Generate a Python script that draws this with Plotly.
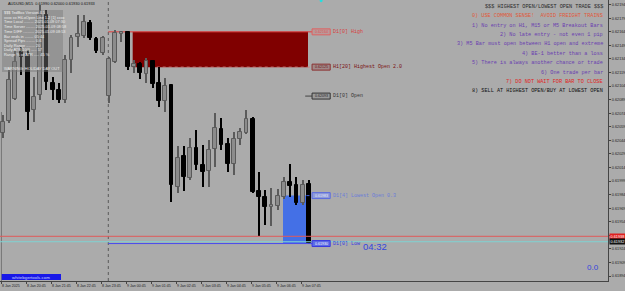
import plotly.graph_objects as go

# ---------------- data ----------------
bar_index = list(range(50))  # M15 bars, bar 0 = 8 Jan 19:45
opens = [0.62052, 0.62065, 0.62090, 0.62142, 0.62138, 0.62078, 0.62094, 0.62183, 0.62108, 0.62100,
         0.62089, 0.62133, 0.62158, 0.62159, 0.62174, 0.62156, 0.62141, 0.62093, 0.62131, 0.62162,
         0.62164, 0.62125, 0.62129, 0.62117, 0.62132, 0.62108, 0.62088, 0.62105, 0.61993, 0.62027,
         0.62002, 0.62036, 0.62017, 0.62010, 0.62035, 0.62057, 0.62040, 0.62018, 0.62046, 0.62052,
         0.62068, 0.61988, 0.61981, 0.61970, 0.61972, 0.61981, 0.61998, 0.61995, 0.61975, 0.61996]
highs = [0.62072, 0.62122, 0.62144, 0.62147, 0.62144, 0.62114, 0.62194, 0.62188, 0.62114, 0.62108,
         0.62138, 0.62161, 0.62183, 0.62183, 0.62177, 0.62158, 0.62159, 0.62136, 0.62166, 0.62165,
         0.62165, 0.62133, 0.62131, 0.62135, 0.62133, 0.62125, 0.62113, 0.62106, 0.62038, 0.62038,
         0.62047, 0.62056, 0.62039, 0.62044, 0.62074, 0.62069, 0.62047, 0.62053, 0.62058, 0.62078,
         0.62070, 0.62009, 0.61989, 0.61991, 0.61990, 0.62004, 0.62018, 0.62004, 0.62000, 0.62000]
lows = [0.62047, 0.62063, 0.62089, 0.62116, 0.62056, 0.62064, 0.62089, 0.62100, 0.62089, 0.62085,
        0.62085, 0.62119, 0.62147, 0.62157, 0.62155, 0.62141, 0.62138, 0.62085, 0.62130, 0.62153,
        0.62122, 0.62119, 0.62112, 0.62108, 0.62102, 0.62081, 0.62075, 0.61976, 0.61986, 0.61988,
        0.62000, 0.62011, 0.61993, 0.61993, 0.62015, 0.62033, 0.62009, 0.62006, 0.62039, 0.62051,
        0.61986, 0.61938, 0.61951, 0.61949, 0.61967, 0.61979, 0.61981, 0.61973, 0.61973, 0.61930]
closes = [0.62064, 0.62111, 0.62131, 0.62136, 0.62075, 0.62092, 0.62183, 0.62109, 0.62100, 0.62089,
          0.62133, 0.62157, 0.62162, 0.62175, 0.62157, 0.62143, 0.62157, 0.62134, 0.62163, 0.62164,
          0.62125, 0.62129, 0.62119, 0.62132, 0.62106, 0.62088, 0.62104, 0.61995, 0.62025, 0.62004,
          0.62036, 0.62017, 0.62009, 0.62033, 0.62058, 0.62039, 0.62018, 0.62046, 0.62053, 0.62068,
          0.61987, 0.61981, 0.61970, 0.61973, 0.61983, 0.61998, 0.61994, 0.61975, 0.61995, 0.61931]

x_label_index = [0, 4, 8, 12, 16, 20, 24, 28, 32, 36, 40, 44, 48]
x_labels = ["8 Jan 2025", "8 Jan 20:45", "8 Jan 21:45", "8 Jan 22:45", "8 Jan 23:45",
            "9 Jan 00:45", "9 Jan 01:45", "9 Jan 02:45", "9 Jan 03:45", "9 Jan 04:45",
            "9 Jan 05:45", "9 Jan 06:45", "9 Jan 07:45"]

y_tick_values = [0.62194, 0.62179, 0.62164, 0.62149, 0.62134, 0.62119, 0.62104, 0.62089, 0.62074,
                 0.62059, 0.62044, 0.62029, 0.62014, 0.61999, 0.61984, 0.61969, 0.61954, 0.61939,
                 0.61924, 0.61909, 0.61894]
y_tick_labels = ["0.62194", "0.62179", "0.62164", "0.62149", "0.62134", "0.62119", "0.62104",
                 "0.62089", "0.62074", "0.62059", "0.62044", "0.62029", "0.62014", "0.61999",
                 "0.61984", "0.61969", "0.61954", "0.61939", "0.61924", "0.61909", "0.61894"]

day_start_index = 16.9
high_zone_start = 20.8
low_zone_start = 44.85
low_zone_end = 48.6
day_high = 0.62164
highest_open = 0.62125
day_open = 0.62093
lowest_open = 0.61983
day_low = 0.61930
ask_price = 0.61938
bid_price = 0.61932

level_values = [day_high, highest_open, day_open, lowest_open, day_low]
level_box_text = ["0.62164", "0.62125", "0.62093", "0.61983", "0.61930"]
level_names = ["D1[0] High", "H1[20] Highest Open 2.0", "D1[0] Open", "D1[4] Lowest Open 0.3", "D1[0] Low"]

rule_lines = ["$$$ HIGHEST OPEN/LOWEST OPEN TRADE $$$",
              "0) USE COMMON SENSE!  AVOID FREIGHT TRAINS",
              "1) No entry on H1, M15 or M5 Breakout Bars",
              "2) No late entry - not even 1 pip",
              "3) M5 Bar must open between H1 open and extreme",
              "4) BE-1 better than a loss",
              "5) There is always another chance or trade",
              "6) One trade per bar",
              "7) DO NOT WAIT FOR BAR TO CLOSE",
              "8) SELL AT HIGHEST OPEN/BUY AT LOWEST OPEN"]

info_lines = ["$$$ TedBox Version 4.5",
              "xxxx xx HiLoOpen Line 1.2 [1] xxxx",
              "Time Local ......... 2025.01.09 07:30",
              "Time Server ........ 2025.01.09 08:58",
              "Time DIFF .......... 2025.01.09 08:53",
              "Bar ends in ........ 05:44",
              "Spread Pips ........ 0.6",
              "Daily Range ........ 20",
              "Daily ATR(100) ..... 57",
              "Range % of ATR ..... 45 %",
              "",
              "WARNING: HOLIDAY DAY OUT"]

header_text = "AUDUSD,M15  0.61990 0.62000 0.61930 0.61933"
countdown_text = "04:32"
corner_value = "0.0"
site_text = "whitebgertools.com"

# ---------------- layout geometry ----------------
W, H = 625, 291
PLOT_W, PLOT_H = 608, 281
X_RANGE = [-0.43, 96.85]
Y_RANGE = [0.618886, 0.621992]
BG = "#ABABAB"
UP_FILL, UP_LINE = "#8C8C8C", "#5A5A5A"
DN_FILL, DN_LINE = "#000000", "#000000"


def px(x):
    return x / PLOT_W


def py(y):
    return 1 - y / PLOT_H


fig = go.Figure()

is_up = [c >= o for o, c in zip(opens, closes)]
wick_colors = [UP_LINE if u else DN_LINE for u in is_up]
body_fill = [UP_FILL if u else DN_FILL for u in is_up]
body_line = [UP_LINE if u else DN_LINE for u in is_up]
body_base = [min(o, c) for o, c in zip(opens, closes)]
body_h = [max(abs(c - o), 0.000012) for o, c in zip(opens, closes)]

# wicks
fig.add_trace(go.Bar(x=bar_index, y=[h - l for h, l in zip(highs, lows)], base=lows, width=0.16,
                     marker=dict(color=wick_colors, line=dict(width=0)), hoverinfo="skip", showlegend=False))
# bodies
fig.add_trace(go.Bar(x=bar_index, y=body_h, base=body_base, width=0.6,
                     marker=dict(color=body_fill, line=dict(color=body_line, width=1)),
                     hoverinfo="skip", showlegend=False))

shapes = []
ann = []

# zones (below candles)
shapes.append(dict(type="rect", xref="x", yref="y", x0=high_zone_start, x1=bar_index[-1] - 0.15,
                   y0=highest_open, y1=day_high, fillcolor="#800000", line=dict(width=0), layer="below"))
shapes.append(dict(type="rect", xref="x", yref="y", x0=low_zone_start, x1=low_zone_end,
                   y0=day_low, y1=lowest_open, fillcolor="#4470E6", line=dict(width=0), layer="below"))

lab_x0 = bar_index[-1] + 0.5
lab_x1 = bar_index[-1] + 3.4
# level lines
shapes.append(dict(type="line", xref="x", yref="y", x0=day_start_index, x1=lab_x0, y0=day_high, y1=day_high,
                   line=dict(color="#E03A3A", width=1), layer="below"))
shapes.append(dict(type="line", xref="x", yref="y", x0=high_zone_start, x1=lab_x0, y0=highest_open, y1=highest_open,
                   line=dict(color="#C88080", width=1, dash="dot"), layer="below"))
shapes.append(dict(type="line", xref="x", yref="y", x0=bar_index[-1] - 0.6, x1=lab_x0, y0=day_open, y1=day_open,
                   line=dict(color="#444444", width=1)))
shapes.append(dict(type="line", xref="x", yref="y", x0=low_zone_end, x1=lab_x0, y0=lowest_open, y1=lowest_open,
                   line=dict(color="#4060E0", width=1, dash="dot")))
shapes.append(dict(type="line", xref="paper", yref="y", x0=0, x1=1, y0=ask_price, y1=ask_price,
                   line=dict(color="#E05A5A", width=1)))
shapes.append(dict(type="line", xref="paper", yref="y", x0=0, x1=1, y0=bid_price, y1=bid_price,
                   line=dict(color="#7FD3D3", width=1)))
shapes.append(dict(type="line", xref="x", yref="y", x0=day_start_index, x1=lab_x0, y0=day_low, y1=day_low,
                   line=dict(color="#4A4AEE", width=1)))
# day separator and left edge
shapes.append(dict(type="line", xref="x", yref="paper", x0=day_start_index, x1=day_start_index, y0=0, y1=1,
                   line=dict(color="#5A5A5A", width=1, dash="dot"), layer="below"))
shapes.append(dict(type="line", xref="x", yref="paper", x0=-0.2, x1=-0.2, y0=0, y1=py(112),
                   line=dict(color="#777777", width=1), layer="below"))

# level label boxes
box_fill = ["#B89A9A", "#A08888", "#9A9A9A", "#8E9AD8", "#5B6BE6"]
box_line = ["#E06060", "#8B3030", "#333333", "#5A6AE0", "#3A3AE0"]
box_font = ["#E05050", "#6A1010", "#222222", "#E8ECFF", "#FFFFFF"]
name_color = ["#D84040", "#7A1010", "#333333", "#6A7CD8", "#3838E0"]
half_h = 0.000033
for v, bt, nm, bf, bl, bc, nc in zip(level_values, level_box_text, level_names, box_fill, box_line, box_font, name_color):
    shapes.append(dict(type="rect", xref="x", yref="y", x0=lab_x0, x1=lab_x1, y0=v - half_h, y1=v + half_h,
                       fillcolor=bf, line=dict(color=bl, width=1)))
    ann.append(dict(xref="x", yref="y", x=(lab_x0 + lab_x1) / 2, y=v, text=bt, showarrow=False,
                    font=dict(family="Liberation Sans", size=3.6, color=bc), xanchor="center", yanchor="middle"))
    ann.append(dict(xref="x", yref="y", x=lab_x1 + 0.2, y=v, text=nm, showarrow=False,
                    font=dict(family="Liberation Mono", size=5, color=nc), xanchor="left", yanchor="middle"))

# cyan marker at top
shapes.append(dict(type="circle", xref="x", yref="paper", x0=50.7, x1=51.2, y0=0.992, y1=1.01,
                   fillcolor="#22E0E0", line=dict(width=0)))

# info panel (semi-transparent, above candles)
shapes.append(dict(type="rect", xref="paper", yref="paper", x0=px(2), x1=px(63), y0=py(72), y1=py(10),
                   fillcolor="rgba(120,120,120,0.45)", line=dict(width=0), layer="above"))
info_y = [12.7, 17.3, 22, 26.7, 31.3, 36, 40.7, 45.3, 50, 54.7, 61.5, 68.3]
for t, yy in zip(info_lines, info_y):
    if t:
        ann.append(dict(xref="paper", yref="paper", x=px(2.5), y=py(yy), text=t, showarrow=False,
                        font=dict(family="Liberation Sans", size=3.9, color="#EDEDED"),
                        xanchor="left", yanchor="middle", borderpad=0))

ann.append(dict(xref="paper", yref="paper", x=px(7), y=py(3.6), text=header_text, showarrow=False,
                font=dict(family="Liberation Sans", size=3.9, color="#111111"), xanchor="left", yanchor="middle",
                borderpad=0))

# rule text block
rule_colors = ["#2A2A2A", "#E0583A", "#6A40B0", "#6A40B0", "#6A40B0", "#6A40B0", "#6A40B0", "#6A40B0",
               "#E02424", "#111111"]
rule_y = [6.7, 16, 25.7, 35, 44, 53.7, 63, 72.7, 82, 91.3]
for t, c, yy in zip(rule_lines, rule_colors, rule_y):
    ann.append(dict(xref="paper", yref="paper", x=px(603.5), y=py(yy), text=t, showarrow=False,
                    font=dict(family="Liberation Mono", size=5.2, color=c), xanchor="right", yanchor="middle",
                    borderpad=0))

# countdown and corner value
ann.append(dict(xref="paper", yref="paper", x=px(362), y=py(246), text=countdown_text, showarrow=False,
                font=dict(family="Liberation Sans", size=9.5, color="#3446DE"), xanchor="left", yanchor="middle",
                borderpad=0))
ann.append(dict(xref="paper", yref="paper", x=px(600), y=py(267), text=corner_value, showarrow=False,
                font=dict(family="Liberation Sans", size=8, color="#3446DE"), xanchor="right", yanchor="middle",
                borderpad=0))

# website box
shapes.append(dict(type="rect", xref="paper", yref="paper", x0=px(1.7), x1=px(61), y0=py(280), y1=py(274),
                   fillcolor="#1818E8", line=dict(width=0), layer="above"))
ann.append(dict(xref="paper", yref="paper", x=px(31), y=py(277), text=site_text, showarrow=False,
                font=dict(family="Liberation Sans", size=4.4, color="#C8D6FF"), xanchor="center", yanchor="middle",
                borderpad=0))

# right-axis price tags
for v, bg in [(ask_price, "#E02020"), (bid_price, "#111111")]:
    ann.append(dict(xref="paper", yref="y", x=1, y=v, text=f"{v:.5f}", showarrow=False, bgcolor=bg,
                    font=dict(family="Liberation Sans", size=3.8, color="#FFFFFF"), xanchor="left",
                    yanchor="middle", borderpad=0.6, xshift=1))

# time labels (left aligned after tick)
for i, t in zip(x_label_index, x_labels):
    ann.append(dict(xref="x", yref="paper", x=i - 0.2, y=0, yshift=-1.5, text=t, showarrow=False,
                    font=dict(family="Liberation Sans", size=3.6, color="#222222"), xanchor="left",
                    yanchor="top", borderpad=0))

fig.update_layout(
    width=W, height=H, margin=dict(l=0, r=W - PLOT_W, t=0, b=H - PLOT_H),
    paper_bgcolor=BG, plot_bgcolor=BG, showlegend=False, barmode="overlay", bargap=0,
    shapes=shapes, annotations=ann,
    xaxis=dict(range=X_RANGE, showgrid=False, zeroline=False,
               tickvals=[i - 0.2 for i in x_label_index], showticklabels=False, ticks="outside",
               ticklen=2, tickcolor="#444444", showline=True, linecolor="#444444", linewidth=1),
    yaxis=dict(range=Y_RANGE, side="right", showgrid=False, zeroline=False,
               tickvals=y_tick_values, ticktext=y_tick_labels, ticks="outside", ticklen=2,
               tickcolor="#444444", tickfont=dict(family="Liberation Sans", size=3.8, color="#222222"),
               showline=True, linecolor="#444444", linewidth=1),
)

fig.write_html("out.html")
